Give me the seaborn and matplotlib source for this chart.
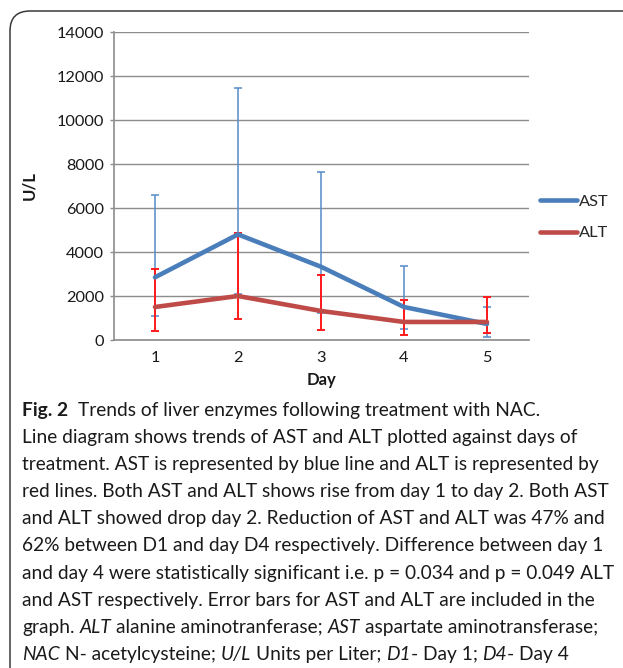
import matplotlib
matplotlib.use("Agg")
import matplotlib.pyplot as plt
import seaborn as sns
import pandas as pd
from matplotlib.lines import Line2D
from matplotlib.patches import FancyBboxPatch

# ---------------- data ----------------
days = [1, 2, 3, 4, 5]
series_names = ["AST", "ALT"]
ast_mean = [2850, 4800, 3330, 1500, 730]
ast_upper = [6600, 11470, 7650, 3370, 1490]
ast_lower = [1100, 2090, 1240, 480, 150]
alt_mean = [1500, 2000, 1320, 820, 820]
alt_upper = [3240, 4880, 2970, 1820, 1950]
alt_lower = [410, 955, 455, 210, 330]
y_ticks = [0, 2000, 4000, 6000, 8000, 10000, 12000, 14000]
x_label = "Day"
y_label = "U/L"

caption_lines = [
    [("Fig. 2", "bold", 0), ("Trends of liver enzymes following treatment with NAC.", "normal", 2)],
    [("Line diagram shows trends of AST and ALT plotted against days of", "normal", 0)],
    [("treatment. AST is represented by blue line and ALT is represented by", "normal", 0)],
    [("red lines. Both AST and ALT shows rise from day 1 to day 2. Both AST", "normal", 0)],
    [("and ALT showed drop day 2. Reduction of AST and ALT was 47% and", "normal", 0)],
    [("62% between D1 and day D4 respectively. Difference between day 1", "normal", 0)],
    [("and day 4 were statistically significant i.e. p = 0.034 and p = 0.049 ALT", "normal", 0)],
    [("and AST respectively. Error bars for AST and ALT are included in the", "normal", 0)],
    [("graph.", "normal", 0), ("ALT", "italic", 1), ("alanine aminotranferase;", "normal", 1),
     ("AST", "italic", 1), ("aspartate aminotransferase;", "normal", 1)],
    [("NAC", "italic", 0), ("N- acetylcysteine;", "normal", 1), ("U/L", "italic", 1),
     ("Units per Liter;", "normal", 1), ("D1", "italic", 1), ("- Day 1;", "normal", 0),
     ("D4", "italic", 1), ("- Day 4", "normal", 0)],
]

# ---------------- style ----------------
sns.set_style("white")
plt.rcParams["font.family"] = ["Lato", "DejaVu Sans"]

W, H = 623, 668
fig = plt.figure(figsize=(W / 100, H / 100), dpi=100)

def px_x(x):
    return x / W

def px_y(y):
    return 1 - y / H

ax = fig.add_axes([px_x(113.5), px_y(340), px_x(528.5) - px_x(113.5), px_y(32) - px_y(340)])

df = pd.DataFrame({
    "Day": days * 2,
    "U/L": ast_mean + alt_mean,
    "Enzyme": [series_names[0]] * len(days) + [series_names[1]] * len(days),
})
line_colors = {"AST": "#4A7EBB", "ALT": "#BE4B48"}
err_colors = {"AST": "#5B8FCC", "ALT": "#FF1A1A"}

for name, m, lo, up, lw in [("AST", ast_mean, ast_lower, ast_upper, 1.15),
                            ("ALT", alt_mean, alt_lower, alt_upper, 1.4)]:
    ax.errorbar(days, m, yerr=[[a - b for a, b in zip(m, lo)], [b - a for a, b in zip(m, up)]],
                fmt="none", ecolor=err_colors[name], elinewidth=lw, capsize=3.2, capthick=lw,
                zorder=2)

sns.lineplot(data=df, x="Day", y="U/L", hue="Enzyme", hue_order=series_names,
             palette=line_colors, linewidth=3.3, ax=ax, legend=False, zorder=3)

ax.set_xlim(0.5, 5.5)
ax.set_ylim(0, 14000)
ax.set_xticks(days)
ax.set_xticklabels([str(d) for d in days])
ax.set_yticks(y_ticks)
ax.set_yticklabels([str(t) for t in y_ticks])
ax.grid(axis="y", color="#8C8C8C", linewidth=1.0)
ax.grid(axis="x", visible=False)
ax.set_axisbelow(True)
for s in ["top", "right"]:
    ax.spines[s].set_visible(False)
for s in ["left", "bottom"]:
    ax.spines[s].set_color("#8C8C8C")
    ax.spines[s].set_linewidth(1.2)
ax.tick_params(axis="y", length=3, width=1.0, color="#8C8C8C", pad=4, labelsize=11.8,
               labelcolor="#1a1a1a", left=True)
ax.tick_params(axis="x", length=0, pad=8, labelsize=11.8, labelcolor="#1a1a1a")

ax.set_xlabel(x_label, fontsize=12, fontweight="bold", color="#1a1a1a")
ax.set_ylabel(y_label, fontsize=12, fontweight="bold", color="#1a1a1a")
ax.xaxis.set_label_coords(0.5, -0.103)
ax.yaxis.set_label_coords(-0.184, 0.503)

handles = [Line2D([], [], color=line_colors[n], linewidth=3.3) for n in series_names]
ax.legend(handles, series_names, loc="center left", bbox_to_anchor=(1.027, 0.398),
          frameon=False, fontsize=11.8, handlelength=2.3, handletextpad=0.12,
          labelspacing=1.05, borderpad=0, borderaxespad=0)

# border box
box = FancyBboxPatch((0.10, -0.5), 7.0, 6.57 + 0.5,
                     boxstyle="round,pad=0,rounding_size=0.2",
                     transform=fig.dpi_scale_trans, facecolor="none",
                     edgecolor="#3a3a3a", linewidth=1.1)
fig.patches.append(box)

# caption
renderer = fig.canvas.get_renderer()

def style_kw(style):
    if style == "bold":
        return {"fontweight": "bold"}
    if style == "italic":
        return {"fontstyle": "italic"}
    return {}

def text_width(s, style, size):
    t = fig.text(0, 0, s, fontsize=size, **style_kw(style))
    w = t.get_window_extent(renderer).width
    t.remove()
    return w

# fit the longest caption line to its width in the reference
cap_size = 12.0
w7 = text_width(caption_lines[6][0][0], "normal", cap_size)
cap_size = cap_size * 590.0 / w7

space_w = text_width("a a", "normal", cap_size) - text_width("aa", "normal", cap_size)
x0 = 22
base0 = 416
step = 27.1
for i, line in enumerate(caption_lines):
    x = x0
    yb = base0 + i * step
    for s, style, nsp in line:
        x += nsp * space_w
        t = fig.text(px_x(x), px_y(yb), s, fontsize=cap_size, va="baseline", ha="left",
                     color="#1a1a1a", **style_kw(style))
        x += t.get_window_extent(renderer).width

fig.savefig("out.png", dpi=100)
